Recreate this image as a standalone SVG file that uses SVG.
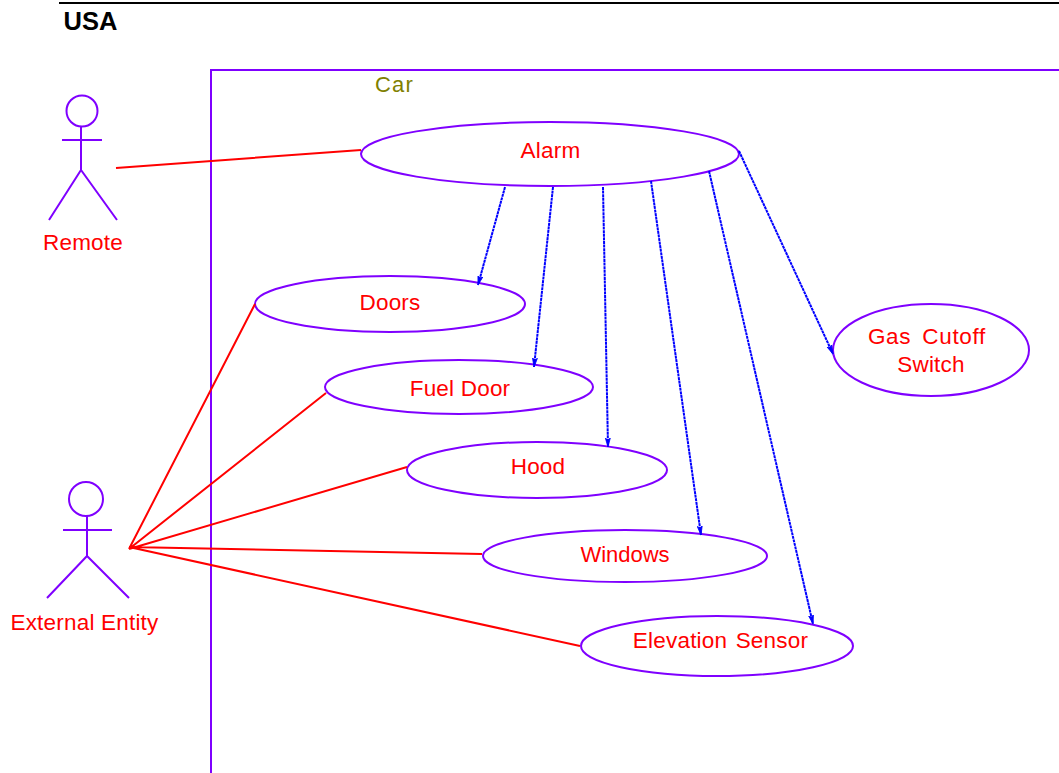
<svg xmlns="http://www.w3.org/2000/svg" width="1059" height="773" viewBox="0 0 1059 773">
<style>
text{font-family:"Liberation Sans",Arial,sans-serif;font-size:22.500px;letter-spacing:0.2px;fill:#ff0000;text-anchor:middle}
.s{fill:none;stroke:#7f00ff;stroke-width:2}
.e{fill:#fff;stroke:#7f00ff;stroke-width:2}
.r{fill:none;stroke:#ff0000;stroke-width:2}
.b{fill:none;stroke:#0000ff;stroke-width:2;stroke-dasharray:3 0.6;marker-end:url(#arr)}
</style>
<defs>
<marker id="arr" markerUnits="userSpaceOnUse" markerWidth="10" markerHeight="10" refX="9" refY="4" orient="auto">
<path d="M0 1.500L9 4L0 6.500L2 4Z" fill="#0000ff" stroke="#0000ff" stroke-width="0.8"/>
</marker>
</defs>
<g id="frame">
<path d="M59 3H1059" fill="none" stroke="#000" stroke-width="2"/>
<text x="90.500" y="30" style="font-size:25.500px;letter-spacing:0;font-weight:bold;fill:#000">USA</text>
</g>
<g id="car">
<path class="s" d="M1059 70H211V773"/>
<text x="394.500" y="92" style="font-size:22px;fill:#808000;letter-spacing:1.200px">Car</text>
</g>
<g id="alarm"><ellipse class="e" cx="550" cy="154" rx="189" ry="32"/><text x="550.500" y="158">Alarm</text></g>
<g id="doors"><ellipse class="e" cx="390" cy="304" rx="135" ry="28"/><text x="390" y="310">Doors</text></g>
<g id="fueldoor"><ellipse class="e" cx="459" cy="387" rx="134" ry="27"/><text x="460" y="396">Fuel Door</text></g>
<g id="hood"><ellipse class="e" cx="537" cy="470" rx="130" ry="28"/><text x="538" y="474">Hood</text></g>
<g id="windows"><ellipse class="e" cx="625" cy="556" rx="142" ry="26"/><text x="625" y="562" style="font-size:22px;letter-spacing:0">Windows</text></g>
<g id="elevation"><ellipse class="e" cx="717" cy="646" rx="136" ry="30"/><text x="720.500" y="648" style="word-spacing:2px">Elevation Sensor</text></g>
<g id="gascutoff"><ellipse class="e" cx="931" cy="350" rx="98" ry="46"/><text x="927" y="344" style="letter-spacing:0.7px;word-spacing:4px">Gas Cutoff</text><text x="931" y="372">Switch</text></g>
<g id="remote">
<circle class="s" cx="82" cy="111" r="15.500"/>
<path class="s" d="M81 126V170M62 140H102M49 220L81 170L117 220"/>
<text x="83" y="250">Remote</text>
</g>
<g id="external">
<circle class="s" cx="86" cy="499" r="17"/>
<path class="s" d="M87 516V556M63 530H112M47 598L87 556L129 598"/>
<text x="84.500" y="630">External Entity</text>
</g>
<g id="connectors">
<path class="r" d="M116 168L361 150M129 549L255 304M129 549L326 393M129 549L407 467M129 547L482 554M129 547L580 646"/>
<path class="b" d="M505 187L478 285"/>
<path class="b" d="M553 187L534 367"/>
<path class="b" d="M603 187L608 447"/>
<path class="b" d="M651 181L701 535"/>
<path class="b" d="M709 171L813 624"/>
<path class="b" d="M739 151L833 354"/>
</g>
</svg>
